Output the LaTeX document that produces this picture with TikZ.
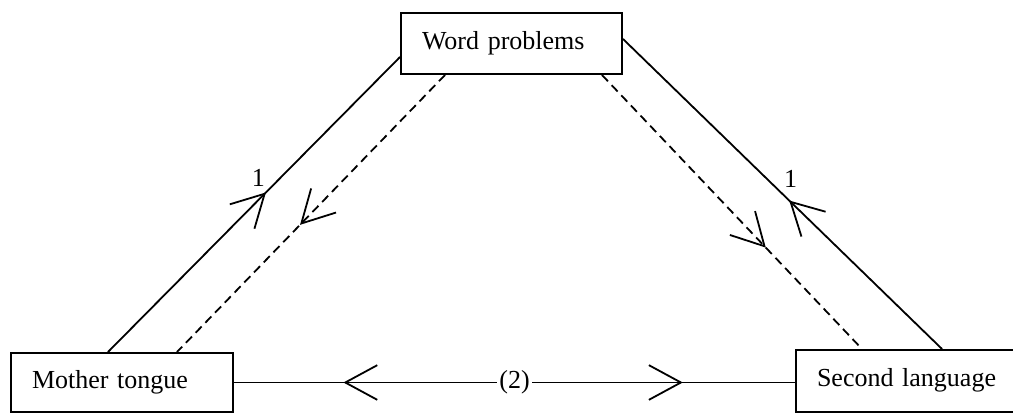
\documentclass[tikz,border=0pt]{standalone}
\usepackage{fontspec}
\setmainfont{Liberation Serif}
\usetikzlibrary{arrows.meta,decorations.markings,calc}
\begin{document}
\begin{tikzpicture}[x=0.75pt,y=-0.75pt,
  txt/.style={font=\fontsize{19.5}{23}\selectfont},
  box/.style={txt, draw, line width=1.5pt, anchor=north west, align=left,
    inner xsep=15.75pt, inner ysep=0pt, text height=13.65pt, text depth=4.9pt},
  conn/.style={line width=1.35pt},
  dashconn/.style={conn, dash pattern=on 6.5pt off 4pt},
  barb/.tip={Straight Barb[length=24pt,width=26pt]},
  lbl/.style={txt, inner sep=1pt},
  midarrow/.style={postaction={decorate}, decoration={markings, mark=at position #1 with {\arrow{barb}}}}]
\clip (0,0) rectangle (1013,413);

\node[box, minimum width=165.75pt, minimum height=45.75pt, text width=134.25pt] (word) at (400,12) {Word problems};
\node[box, minimum width=166.5pt, minimum height=44.25pt, text width=135pt] (mother) at (10,352) {Mother tongue};
\node[box, minimum width=210pt, minimum height=46.5pt, text width=178.5pt] (second) at (795,349) {Second language};

% left solid: Mother tongue -> Word problems
\draw[conn, midarrow=0.541] ($(mother.north west)+(98,0)$) -- ($(word.north west)+(0,45)$)
  node[lbl, pos=0.59, xshift=-16.5pt] (one1) {1};
% left dashed: Word problems -> Mother tongue
\draw[dashconn, midarrow=0.541] ($(word.south west)+(45,0)$) -- ($(mother.north west)+(167,0)$);
% right solid: Second language -> Word problems
\draw[conn, midarrow=0.479] ($(second.north west)+(147,0)$) -- ($(word.north east)+(0,27)$)
  node[lbl, pos=0.55, xshift=18pt] (one2) {1};
% right dashed: Word problems -> Second language
\draw[dashconn, midarrow=0.63] ($(word.south west)+(202,0)$) -- ($(second.north west)+(67,0)$);
% bottom
\draw[conn, postaction={decorate}, decoration={markings,
    mark=at position 0.195 with {\arrowreversed{barb}},
    mark=at position 0.80 with {\arrow{barb}}}]
  (mother.east) -- (mother.east -| second.west)
  node[lbl, midway, fill=white, inner sep=2pt] (two) {(2)};
\end{tikzpicture}
\end{document}
